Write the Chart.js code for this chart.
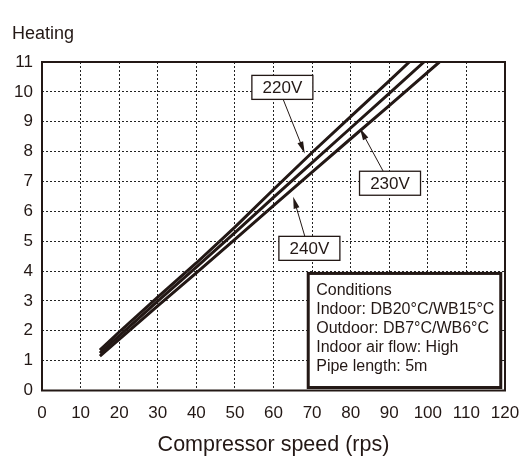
<!DOCTYPE html>
<html>
<head>
<meta charset="utf-8">
<script src="https://cdn.jsdelivr.net/npm/chart.js@4.4.1/dist/chart.umd.min.js"></script>
<style>
  html, body { margin: 0; padding: 0; background: #fff; }
  #wrap { width: 525px; height: 460px; }
</style>
</head>
<body>
<div id="wrap"><canvas id="heating-chart"></canvas></div>
<script>
// Chart data
// ------------------------------
var speeds = [15, 20, 30, 40, 50, 60, 70, 80, 90];
var v220 = [1.35, 1.96, 3.13, 4.27, 5.47, 6.73, 7.97, 9.17, 10.37];
var v230 = [1.25, 1.83, 2.99, 4.13, 5.29, 6.47, 7.63, 8.79, 9.95];
var v240 = [1.15, 1.71, 2.83, 3.94, 5.06, 6.19, 7.31, 8.43, 9.54];
// where each line runs out of the top of the chart
var endSpeeds = [95.2, 99, 103];
var topValue = 11;

var seriesNames = ["220V", "230V", "240V"];
var xTicks = [0, 10, 20, 30, 40, 50, 60, 70, 80, 90, 100, 110, 120];
var yTicks = [0, 1, 2, 3, 4, 5, 6, 7, 8, 9, 10, 11];
var conditions = ["Conditions", "Indoor: DB20°C/WB15°C", "Outdoor: DB7°C/WB6°C",
                  "Indoor air flow: High", "Pipe length: 5m"];

var FONT = "'Liberation Sans', Arial, Helvetica, sans-serif";
var INK = "#231815";

function points(vals, endX) {
    var pts = speeds.map(function (s, i) { return {x: s, y: vals[i]}; });
    pts.push({x: endX, y: topValue});
    return pts;
}

// Label boxes and arrows, placed in data units
var labelBoxes = [
    {text: "220V", x: 62.3, y: 10.15, from: [62.5, 9.75], to: [68.1, 7.94]},
    {text: "230V", x: 90.2, y: 6.94, from: [88.4, 7.35], to: [82.4, 8.78]},
    {text: "240V", x: 69.3, y: 4.76, from: [68.1, 5.17], to: [65.1, 6.49]}
];
var condBox = {x0: 69.0, x1: 118.9, y0: 3.92, y1: 0.1};

function arrow(ctx, x1, y1, x2, y2) {
    var a = Math.atan2(y2 - y1, x2 - x1), len = 12, w = 3;
    ctx.beginPath();
    ctx.moveTo(x1, y1);
    ctx.lineTo(x2 - Math.cos(a) * len * 0.8, y2 - Math.sin(a) * len * 0.8);
    ctx.lineWidth = 1;
    ctx.stroke();
    ctx.beginPath();
    ctx.moveTo(x2, y2);
    ctx.lineTo(x2 - Math.cos(a) * len + Math.sin(a) * w, y2 - Math.sin(a) * len - Math.cos(a) * w);
    ctx.lineTo(x2 - Math.cos(a) * len - Math.sin(a) * w, y2 - Math.sin(a) * len + Math.cos(a) * w);
    ctx.closePath();
    ctx.fill();
}

var extrasPlugin = {
    id: "extras",
    afterDraw: function (chart) {
        var ctx = chart.ctx, xs = chart.scales.x, ys = chart.scales.y, area = chart.chartArea;
        ctx.save();
        ctx.strokeStyle = INK;
        ctx.fillStyle = INK;

        // frame
        ctx.lineWidth = 2;
        ctx.strokeRect(area.left, area.top, area.right - area.left, area.bottom - area.top);

        // title
        ctx.font = "18px " + FONT;
        ctx.textAlign = "left";
        ctx.textBaseline = "middle";
        ctx.fillText("Heating", 12, 34);

        // voltage labels
        ctx.font = "17px " + FONT;
        labelBoxes.forEach(function (b) {
            arrow(ctx, xs.getPixelForValue(b.from[0]), ys.getPixelForValue(b.from[1]),
                  xs.getPixelForValue(b.to[0]), ys.getPixelForValue(b.to[1]));
            var cx = xs.getPixelForValue(b.x), cy = ys.getPixelForValue(b.y);
            var w = 61, h = 24;
            ctx.fillStyle = "#fff";
            ctx.fillRect(cx - w / 2, cy - h / 2, w, h);
            ctx.lineWidth = 1.3;
            ctx.strokeRect(cx - w / 2, cy - h / 2, w, h);
            ctx.fillStyle = INK;
            ctx.textAlign = "center";
            ctx.fillText(b.text, cx, cy + 1);
        });

        // conditions box
        var l = xs.getPixelForValue(condBox.x0), r = xs.getPixelForValue(condBox.x1);
        var t = ys.getPixelForValue(condBox.y0), btm = ys.getPixelForValue(condBox.y1);
        ctx.fillStyle = "#fff";
        ctx.fillRect(l, t, r - l, btm - t);
        ctx.lineWidth = 3;
        ctx.strokeRect(l, t, r - l, btm - t);
        ctx.fillStyle = INK;
        ctx.textAlign = "left";
        ctx.font = "16px " + FONT;
        conditions.forEach(function (line, i) {
            ctx.fillText(line, l + 8, t + 17 + i * 19);
        });
        ctx.restore();
    }
};

var ctx = document.getElementById("heating-chart");

var chartData = {
    datasets: [
        {label: seriesNames[0], data: points(v220, endSpeeds[0])},
        {label: seriesNames[1], data: points(v230, endSpeeds[1])},
        {label: seriesNames[2], data: points(v240, endSpeeds[2])}
    ].map(function (d) {
        d.borderColor = INK;
        d.borderWidth = 3;
        d.pointRadius = 0;
        d.tension = 0;
        d.fill = false;
        d.clip = 0;
        return d;
    })
};

var chartOptions = {
    responsive: true,
    maintainAspectRatio: false,
    animation: false,
    devicePixelRatio: 1,
    layout: {padding: {top: 62, right: 20, left: 0, bottom: 0}},
    plugins: {legend: {display: false}, tooltip: {enabled: false}},
    scales: {
        x: {
            type: "linear", min: 0, max: 120,
            afterBuildTicks: function (s) { s.ticks = xTicks.map(function (v) { return {value: v}; }); },
            afterFit: function (s) { s.height = 69.5; s.paddingLeft = 0; s.paddingRight = 0; },
            grid: {color: "#222", lineWidth: 1, drawTicks: false},
            border: {display: false, dash: [2, 2]},
            ticks: {color: INK, padding: 13, maxRotation: 0, autoSkip: false, font: {size: 17, family: FONT}},
            title: {display: true, text: "Compressor speed (rps)", color: INK,
                    padding: {top: 0, bottom: 2}, font: {size: 21.5, family: FONT}}
        },
        y: {
            type: "linear", min: 0, max: 11,
            afterBuildTicks: function (s) { s.ticks = yTicks.map(function (v) { return {value: v}; }); },
            afterFit: function (s) { s.width = 42; s.paddingTop = 0; s.paddingBottom = 0; },
            grid: {color: "#222", lineWidth: 1, drawTicks: false},
            border: {display: false, dash: [2, 2]},
            ticks: {color: INK, padding: 9, autoSkip: false, font: {size: 17, family: FONT}}
        }
    }
};

var config = {
    type: "line",
    data: chartData,
    options: chartOptions,
    plugins: [extrasPlugin]
};

// Create the chart
var heatingChart = new Chart(ctx, config);
</script>
</body>
</html>
